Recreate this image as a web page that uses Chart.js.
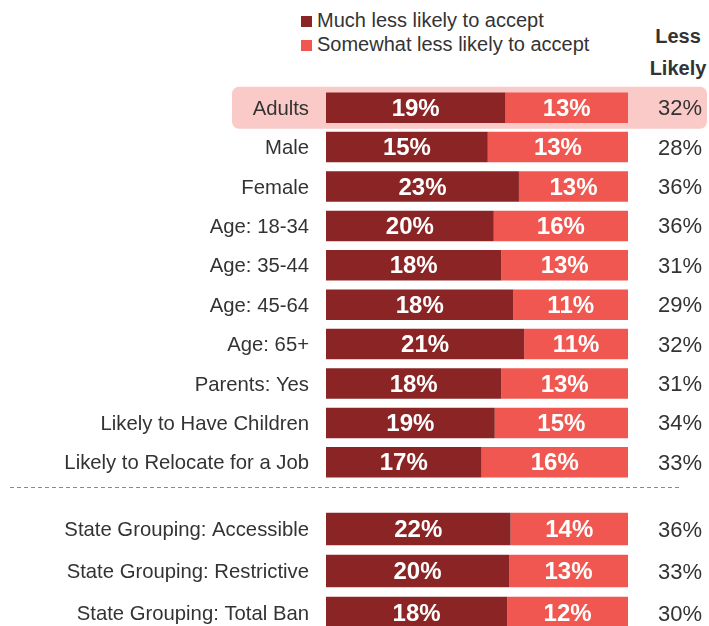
<!DOCTYPE html>
<html>
<head>
<meta charset="utf-8">
<script src="https://cdn.jsdelivr.net/npm/chart.js@4.4.1/dist/chart.umd.min.js"></script>
<style>
  html, body { margin:0; padding:0; background:#fff; }
  body { width:709px; height:626px; overflow:hidden; position:relative; font-family:"Liberation Sans", Arial, sans-serif; color:#333; }
  .abs { position:absolute; }
  #c1wrap { left:0; top:0; width:709px; height:482px; }
  #c2wrap { left:0; top:500px; width:709px; height:134px; }
  .sq { width:11px; height:11px; }
  .leg { font-size:20px; line-height:24px; white-space:nowrap; }
  #hdr { left:640px; top:20px; width:76px; text-align:center; font-weight:bold; font-size:20px; line-height:32px; }
</style>
</head>
<body>
<div class="abs sq" style="left:301px; top:16px; background:#8B2525;"></div>
<div class="abs sq" style="left:301px; top:40px; background:#EF5750;"></div>
<div class="abs leg" style="left:317px; top:8px;">Much less likely to accept</div>
<div class="abs leg" style="left:317px; top:32px;">Somewhat less likely to accept</div>
<div class="abs" id="hdr">Less<br>Likely</div>
<svg class="abs" style="left:0; top:480px;" width="709" height="14">
  <line x1="10" y1="7.5" x2="680" y2="7.5" stroke="#8a8a8a" stroke-width="1" stroke-dasharray="4 3"/>
</svg>
<div class="abs" id="c1wrap"><canvas id="c1"></canvas></div>
<div class="abs" id="c2wrap"><canvas id="c2"></canvas></div>
<script>
// ---- Data ----
const seriesNames = ["Much less likely to accept", "Somewhat less likely to accept"];
const groupLabels = ["Adults", "Male", "Female", "Age: 18-34", "Age: 35-44", "Age: 45-64", "Age: 65+", "Parents: Yes", "Likely to Have Children", "Likely to Relocate for a Job"];
const groupMuch = [19, 15, 23, 20, 18, 18, 21, 18, 19, 17];
const groupSomewhat = [13, 13, 13, 16, 13, 11, 11, 13, 15, 16];
const groupTotal = [32, 28, 36, 36, 31, 29, 32, 31, 34, 33];

const stateLabels = ["State Grouping: Accessible", "State Grouping: Restrictive", "State Grouping: Total Ban"];
const stateMuch = [22, 20, 18];
const stateSomewhat = [14, 13, 12];
const stateTotal = [36, 33, 30];

const highlightLabel = "Adults";

// ---- Styles ----
const DARK = "#8B2525";
const LIGHT = "#EF5750";
const HILITE = "#F9CAC7";
const TEXT = "#333333";
const FONT = "'Liberation Sans', Arial, sans-serif";

// Bars fill the full width: each segment is its share of the row total.
function shares(a, b) {
  return a.map((v, i) => v / (a[i] + b[i]) * 100);
}

const labelPlugin = {
  id: 'valueLabels',
  beforeDraw(chart) {
    const opt = chart.options.plugins.valueLabels;
    if (!opt.highlight) return;
    const idx = chart.data.labels.indexOf(opt.highlight);
    if (idx < 0) return;
    const y = chart.scales.y.getPixelForValue(idx);
    const ctx = chart.ctx;
    ctx.save();
    ctx.fillStyle = HILITE;
    ctx.beginPath();
    ctx.roundRect(232, y - 21, 475, 42, 7);
    ctx.fill();
    ctx.restore();
  },
  afterDatasetsDraw(chart) {
    const opt = chart.options.plugins.valueLabels;
    const ctx = chart.ctx;
    ctx.save();
    ctx.textAlign = 'center';
    ctx.textBaseline = 'middle';
    ctx.font = "bold 24px " + FONT;
    ctx.fillStyle = '#ffffff';
    chart.data.datasets.forEach((ds, di) => {
      const meta = chart.getDatasetMeta(di);
      meta.data.forEach((bar, i) => {
        const cx = (bar.x + bar.base) / 2;
        ctx.fillText(ds.raw[i] + '%', cx, bar.y + 1.5);
      });
    });
    ctx.textAlign = 'right';
    ctx.font = "22px " + FONT;
    ctx.fillStyle = TEXT;
    opt.totals.forEach((t, i) => {
      const y = chart.scales.y.getPixelForValue(i);
      ctx.fillText(t + '%', 702, y + 1.5);
    });
    ctx.restore();
  }
};

function makeChart(id, labels, much, somewhat, totals, highlight) {
  const sMuch = shares(much, somewhat);
  const sSome = shares(somewhat, much);
  return new Chart(document.getElementById(id), {
    type: 'bar',
    data: {
      labels: labels,
      datasets: [
        { label: seriesNames[0], data: sMuch, raw: much, backgroundColor: DARK, borderWidth: 0 },
        { label: seriesNames[1], data: sSome, raw: somewhat, backgroundColor: LIGHT, borderWidth: 0 }
      ]
    },
    options: {
      indexAxis: 'y',
      responsive: true,
      maintainAspectRatio: false,
      animation: false,
      events: [],
      categoryPercentage: 0.775,
      barPercentage: 1.0,
      layout: { padding: { left: 0, right: 81, top: id === 'c1' ? 88 : 8, bottom: 0 } },
      scales: {
        x: { display: false, stacked: true, min: 0, max: 100 },
        y: {
          stacked: true,
          grid: { display: false, drawTicks: false },
          border: { display: false },
          ticks: { color: TEXT, padding: 17, labelOffset: 1.5, font: { family: FONT, size: 20.3 } },
          afterFit(scale) { scale.width = 326; scale.paddingTop = 0; scale.paddingBottom = 0; }
        }
      },
      plugins: {
        legend: { display: false },
        tooltip: { enabled: false },
        valueLabels: { totals: totals, highlight: highlight }
      }
    },
    plugins: [labelPlugin]
  });
}

makeChart('c1', groupLabels, groupMuch, groupSomewhat, groupTotal, highlightLabel);
makeChart('c2', stateLabels, stateMuch, stateSomewhat, stateTotal, null);
</script>
</body>
</html>
